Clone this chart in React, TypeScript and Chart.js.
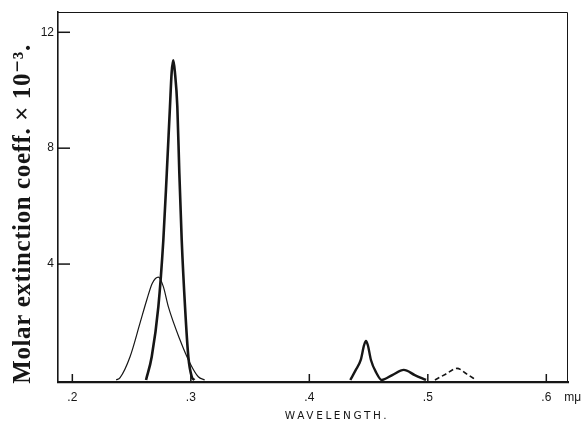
import React, { useEffect, useRef } from 'react';
import { Chart, registerables } from 'chart.js';

Chart.register(...registerables);

// Tick positions (wavelength in mμ units of 1000 nm, coefficient × 10^-3)
const xTickValues = [0.2, 0.3, 0.4, 0.5, 0.6];
const yTickValues = [4, 8, 12];

// Thin broad band near 0.27
const thinBandX = [0.237, 0.2403, 0.2487, 0.2571, 0.2628, 0.2675, 0.2726, 0.2768, 0.281, 0.2909, 0.2993, 0.3063, 0.3117];
const thinBandY = [0, 0.08, 0.8, 1.96, 2.76, 3.34, 3.55, 3.22, 2.53, 1.38, 0.58, 0.11, 0];

// Thick sharp band near 0.285
const sharpBandX = [0.2622, 0.267, 0.2726, 0.2768, 0.2797, 0.2824, 0.2838, 0.2852, 0.2866, 0.2886, 0.2903, 0.2923, 0.2951, 0.2979, 0.3008, 0.303];
const sharpBandY = [0, 0.8, 2.53, 4.83, 7.14, 9.44, 10.6, 11.03, 10.6, 9.44, 7.14, 4.83, 2.53, 0.8, 0.11, 0];

// Thick visible bands near 0.45 and 0.48
const visibleBandX = [0.4346, 0.439, 0.4434, 0.4462, 0.4478, 0.4494, 0.452, 0.4565, 0.461, 0.47, 0.4797, 0.489, 0.4985];
const visibleBandY = [0, 0.33, 0.69, 1.2, 1.35, 1.2, 0.69, 0.25, 0, 0.17, 0.35, 0.17, 0];

// Dashed band near 0.525
const dashedBandX = [0.506, 0.515, 0.5246, 0.533, 0.5407];
const dashedBandY = [0, 0.2, 0.4, 0.2, 0];

const xMin = 0.1879;
const xMax = 0.6183;
const yMin = -0.07;
const yMax = 12.7;

const toPoints = (xs: number[], ys: number[]) => xs.map((x, i) => ({ x, y: ys[i] }));

const INK = '#161616';

const decorPlugin = {
  id: 'decor',
  afterDraw(chart: any) {
    const { ctx, chartArea: a, scales } = chart;
    const x = scales.x;
    const y = scales.y;
    ctx.save();
    ctx.strokeStyle = INK;
    ctx.fillStyle = INK;
    // top and right frame
    ctx.lineWidth = 1;
    ctx.beginPath();
    ctx.moveTo(a.left, a.top + 0.5);
    ctx.lineTo(a.right - 0.5, a.top + 0.5);
    ctx.lineTo(a.right - 0.5, a.bottom);
    ctx.stroke();
    // inward tick marks
    ctx.lineWidth = 1.5;
    xTickValues.forEach((v) => {
      const px = x.getPixelForValue(v);
      ctx.beginPath();
      ctx.moveTo(px, a.bottom);
      ctx.lineTo(px, a.bottom - 8);
      ctx.stroke();
    });
    yTickValues.forEach((v) => {
      const py = y.getPixelForValue(v);
      ctx.beginPath();
      ctx.moveTo(a.left, py);
      ctx.lineTo(a.left + 12, py);
      ctx.stroke();
    });
    // unit
    ctx.font = "12px 'Liberation Sans', Arial, sans-serif";
    ctx.textBaseline = 'middle';
    ctx.textAlign = 'left';
    ctx.fillText('mμ', x.getPixelForValue(0.6) + 18, a.bottom + 16);
    // x title
    ctx.font = "10.5px 'DejaVu Sans', sans-serif";
    (ctx as any).letterSpacing = '2.6px';
    ctx.textAlign = 'center';
    ctx.fillText('WAVELENGTH.', 337, 416);
    (ctx as any).letterSpacing = '0px';
    // y title
    ctx.translate(30, 214);
    ctx.rotate(-Math.PI / 2);
    ctx.font = "bold 25px 'Liberation Serif', 'DejaVu Serif', serif";
    (ctx as any).letterSpacing = '0.6px';
    ctx.textBaseline = 'alphabetic';
    ctx.textAlign = 'center';
    ctx.fillText('Molar extinction coeff. × 10⁻³.', 0, 0);
    (ctx as any).letterSpacing = '0px';
    ctx.restore();
  },
};

export default function App() {
  const canvasRef = useRef<HTMLCanvasElement | null>(null);

  useEffect(() => {
    if (!canvasRef.current) return;
    const lineBase = {
      showLine: true,
      pointRadius: 0,
      borderColor: INK,
      cubicInterpolationMode: 'monotone' as const,
      fill: false,
    };
    const chart = new Chart(canvasRef.current, {
      type: 'scatter',
      data: {
        datasets: [
          { ...lineBase, label: 'broad', data: toPoints(thinBandX, thinBandY), borderWidth: 1.2 },
          { ...lineBase, label: 'sharp', data: toPoints(sharpBandX, sharpBandY), borderWidth: 2.6 },
          { ...lineBase, label: 'visible', data: toPoints(visibleBandX, visibleBandY), borderWidth: 2.4 },
          { ...lineBase, label: 'dashed', data: toPoints(dashedBandX, dashedBandY), borderWidth: 1.6, borderDash: [5, 3] },
        ],
      },
      options: {
        responsive: false,
        animation: false,
        layout: { padding: { left: 0, right: 13, top: 12, bottom: 0 } },
        plugins: {
          legend: { display: false },
          tooltip: { enabled: false },
        },
        scales: {
          x: {
            type: 'linear',
            min: xMin,
            max: xMax,
            afterBuildTicks: (scale: any) => {
              scale.ticks = xTickValues.map((value) => ({ value }));
            },
            afterFit: (scale: any) => {
              scale.height = 47;
            },
            grid: { drawOnChartArea: false, drawTicks: false },
            border: { display: true, color: INK, width: 2.2 },
            ticks: {
              padding: 8,
              color: INK,
              font: { family: "'Liberation Sans', Arial, sans-serif", size: 12 },
              callback: (v: any) => '.' + Math.round(Number(v) * 10),
              maxRotation: 0,
            },
          },
          y: {
            type: 'linear',
            min: yMin,
            max: yMax,
            afterBuildTicks: (scale: any) => {
              scale.ticks = yTickValues.map((value) => ({ value }));
            },
            afterFit: (scale: any) => {
              scale.width = 58;
            },
            grid: { drawOnChartArea: false, drawTicks: false },
            border: { display: true, color: INK, width: 1.6 },
            ticks: {
              padding: 4,
              color: INK,
              font: { family: "'Liberation Sans', Arial, sans-serif", size: 12 },
              callback: (v: any) => String(v),
            },
          },
        },
      },
      plugins: [decorPlugin],
    });
    return () => chart.destroy();
  }, []);

  return (
    <div style={{ position: 'fixed', left: 0, top: 0, width: 581, height: 429, background: '#fff' }}>
      <canvas ref={canvasRef} width={581} height={429} style={{ display: 'block' }} />
    </div>
  );
}
